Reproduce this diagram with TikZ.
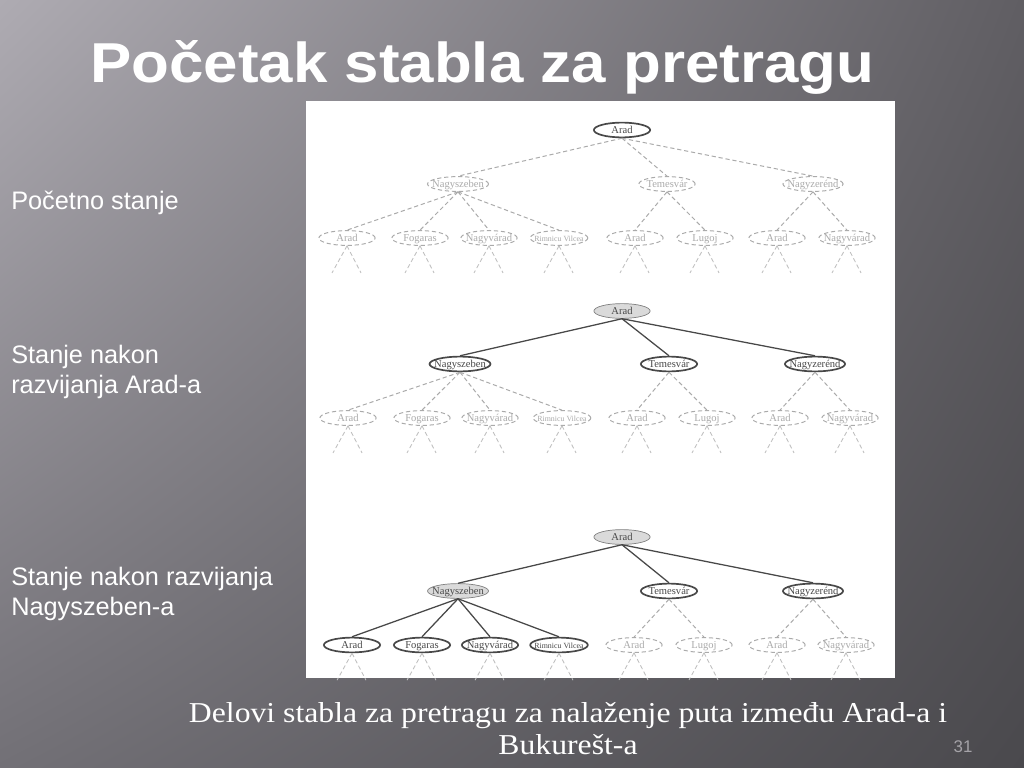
\documentclass[tikz,border=0pt]{standalone}
\usepackage{fontspec}
\setmainfont{Liberation Serif}
\newfontfamily\slidefont{Liberation Sans}
\newfontfamily\titlefont[FakeStretch=1.1]{Liberation Sans}
\newfontfamily\capfont[FakeStretch=1.1]{Liberation Serif}
\usetikzlibrary{shapes.geometric}
\usetikzlibrary{shadings}

\definecolor{bgTL}{RGB}{174,171,178}
\definecolor{bgTR}{RGB}{96,94,99}
\definecolor{bgBL}{RGB}{114,112,118}
\definecolor{bgBR}{RGB}{74,73,77}
\definecolor{lineDark}{RGB}{72,72,72}
\definecolor{lineLight}{RGB}{170,170,170}
\definecolor{fillDone}{RGB}{218,218,218}
\definecolor{pageNo}{RGB}{165,163,168}

\tikzset{
  city/.style={ellipse, minimum width=40pt, minimum height=10.5pt, inner xsep=-3pt, inner ysep=0pt,
    text height=6pt, text depth=1pt, font=\fontsize{7.5}{8}\selectfont},
  unseen/.style={city, draw=lineLight, densely dashed, line width=0.7pt, text=lineLight},
  frontier/.style={city, draw=lineDark, line width=1.2pt, fill=white, text=lineDark},
  expanded/.style={city, draw=gray, line width=0.5pt, fill=fillDone, text=lineDark},
  solidedge/.style={draw=lineDark, line width=0.9pt},
  dashedge/.style={draw=lineLight, densely dashed, line width=0.7pt},
  stub/.style={draw=lineLight!75, densely dashed, line width=0.6pt},
  slidetext/.style={text=white, inner sep=0pt, anchor=base west, font=\slidefont\fontsize{18}{21}\selectfont}
}
\newcommand{\rv}{{\fontsize{5.6}{6}\selectfont Rimnicu Vilcea}}

\begin{document}
\begin{tikzpicture}[x=0.025cm, y=-0.025cm]
  \useasboundingbox (0,0) rectangle (1024,768);
  \shade[upper left=bgTL, upper right=bgTR, lower left=bgBL, lower right=bgBR] (0,0) rectangle (1024,768);

  % title and side notes
  \node[slidetext, font=\titlefont\bfseries\fontsize{40}{46}\selectfont] (title) at (90,83) {Početak stabla za pretragu};
  \node[slidetext] (lab1) at (11,209) {Početno stanje};
  \node[slidetext] (lab2a) at (11,363) {Stanje nakon};
  \node[slidetext] (lab2b) at (11,393) {razvijanja Arad-a};
  \node[slidetext] (lab3a) at (11,585) {Stanje nakon razvijanja};
  \node[slidetext] (lab3b) at (11,615) {Nagyszeben-a};

  % picture panel
  \fill[white] (306,101) rectangle (895,678);

  %tree 1
  \node[frontier] (a1) at (622,130) {Arad};
  \node[unseen] (a1s) at (458,184) {Nagyszeben};
  \node[unseen] (a1t) at (667,184) {Temesvár};
  \node[unseen] (a1z) at (813,184) {Nagyzerénd};
  \foreach \c in {a1s,a1t,a1z}
    \path[dashedge] (a1.south) -- (\c.north);
  \foreach \x/\name/\n/\p in {347/Arad/a1sa/a1s, 420/Fogaras/a1sf/a1s, 489/Nagyvárad/a1so/a1s, 559/\rv/a1sr/a1s,
      635/Arad/a1ta/a1t, 705/Lugoj/a1tl/a1t, 777/Arad/a1za/a1z, 847/Nagyvárad/a1zo/a1z} {
    \node[unseen] (\n) at (\x,238) {\name};
    \path[dashedge] (\p.south) -- (\n.north);
    \path[stub] (\n.south) -- ++(-15,27);
    \path[stub] (\n.south) -- ++(14,27);
  }

  %tree 2
  \node[expanded] (a2) at (622,311) {Arad};
  \node[frontier] (a2s) at (460,364) {Nagyszeben};
  \node[frontier] (a2t) at (669,364) {Temesvár};
  \node[frontier] (a2z) at (815,364) {Nagyzerénd};
  \foreach \c in {a2s,a2t,a2z}
    \path[solidedge] (a2.south) -- (\c.north);
  \foreach \x/\name/\n/\p in {348/Arad/a2sa/a2s, 422/Fogaras/a2sf/a2s, 490/Nagyvárad/a2so/a2s, 562/\rv/a2sr/a2s,
      637/Arad/a2ta/a2t, 707/Lugoj/a2tl/a2t, 780/Arad/a2za/a2z, 850/Nagyvárad/a2zo/a2z} {
    \node[unseen] (\n) at (\x,418) {\name};
    \path[dashedge] (\p.south) -- (\n.north);
    \path[stub] (\n.south) -- ++(-15,27);
    \path[stub] (\n.south) -- ++(14,27);
  }

  %tree 3
  \node[expanded] (a3) at (622,537) {Arad};
  \node[expanded] (a3s) at (458,591) {Nagyszeben};
  \node[frontier] (a3t) at (669,591) {Temesvár};
  \node[frontier] (a3z) at (813,591) {Nagyzerénd};
  \foreach \c in {a3s,a3t,a3z}
    \path[solidedge] (a3.south) -- (\c.north);
  \foreach \x/\name/\n in {352/Arad/a3sa, 422/Fogaras/a3sf, 490/Nagyvárad/a3so, 559/\rv/a3sr} {
    \node[frontier] (\n) at (\x,645) {\name};
    \path[solidedge] (a3s.south) -- (\n.north);
    \path[stub] (\n.south) -- ++(-15,27);
    \path[stub] (\n.south) -- ++(14,27);
  }
  \foreach \x/\name/\n/\p in {634/Arad/a3ta/a3t, 704/Lugoj/a3tl/a3t, 777/Arad/a3za/a3z, 846/Nagyvárad/a3zo/a3z} {
    \node[unseen] (\n) at (\x,645) {\name};
    \path[dashedge] (\p.south) -- (\n.north);
    \path[stub] (\n.south) -- ++(-15,27);
    \path[stub] (\n.south) -- ++(14,27);
  }

  % caption
  \node[text=white, inner sep=0pt, anchor=base, font=\capfont\fontsize{20.5}{24}\selectfont] (cap1) at (568,722)
    {Delovi stabla za pretragu za nalaženje puta između Arad-a i};
  \node[text=white, inner sep=0pt, anchor=base, font=\capfont\fontsize{20.5}{24}\selectfont] (cap2) at (568,754) {Bukurešt-a};
  \node[text=pageNo, inner sep=0pt, anchor=base, font=\slidefont\fontsize{12}{14}\selectfont] (num) at (963,752) {31};
\end{tikzpicture}
\end{document}
